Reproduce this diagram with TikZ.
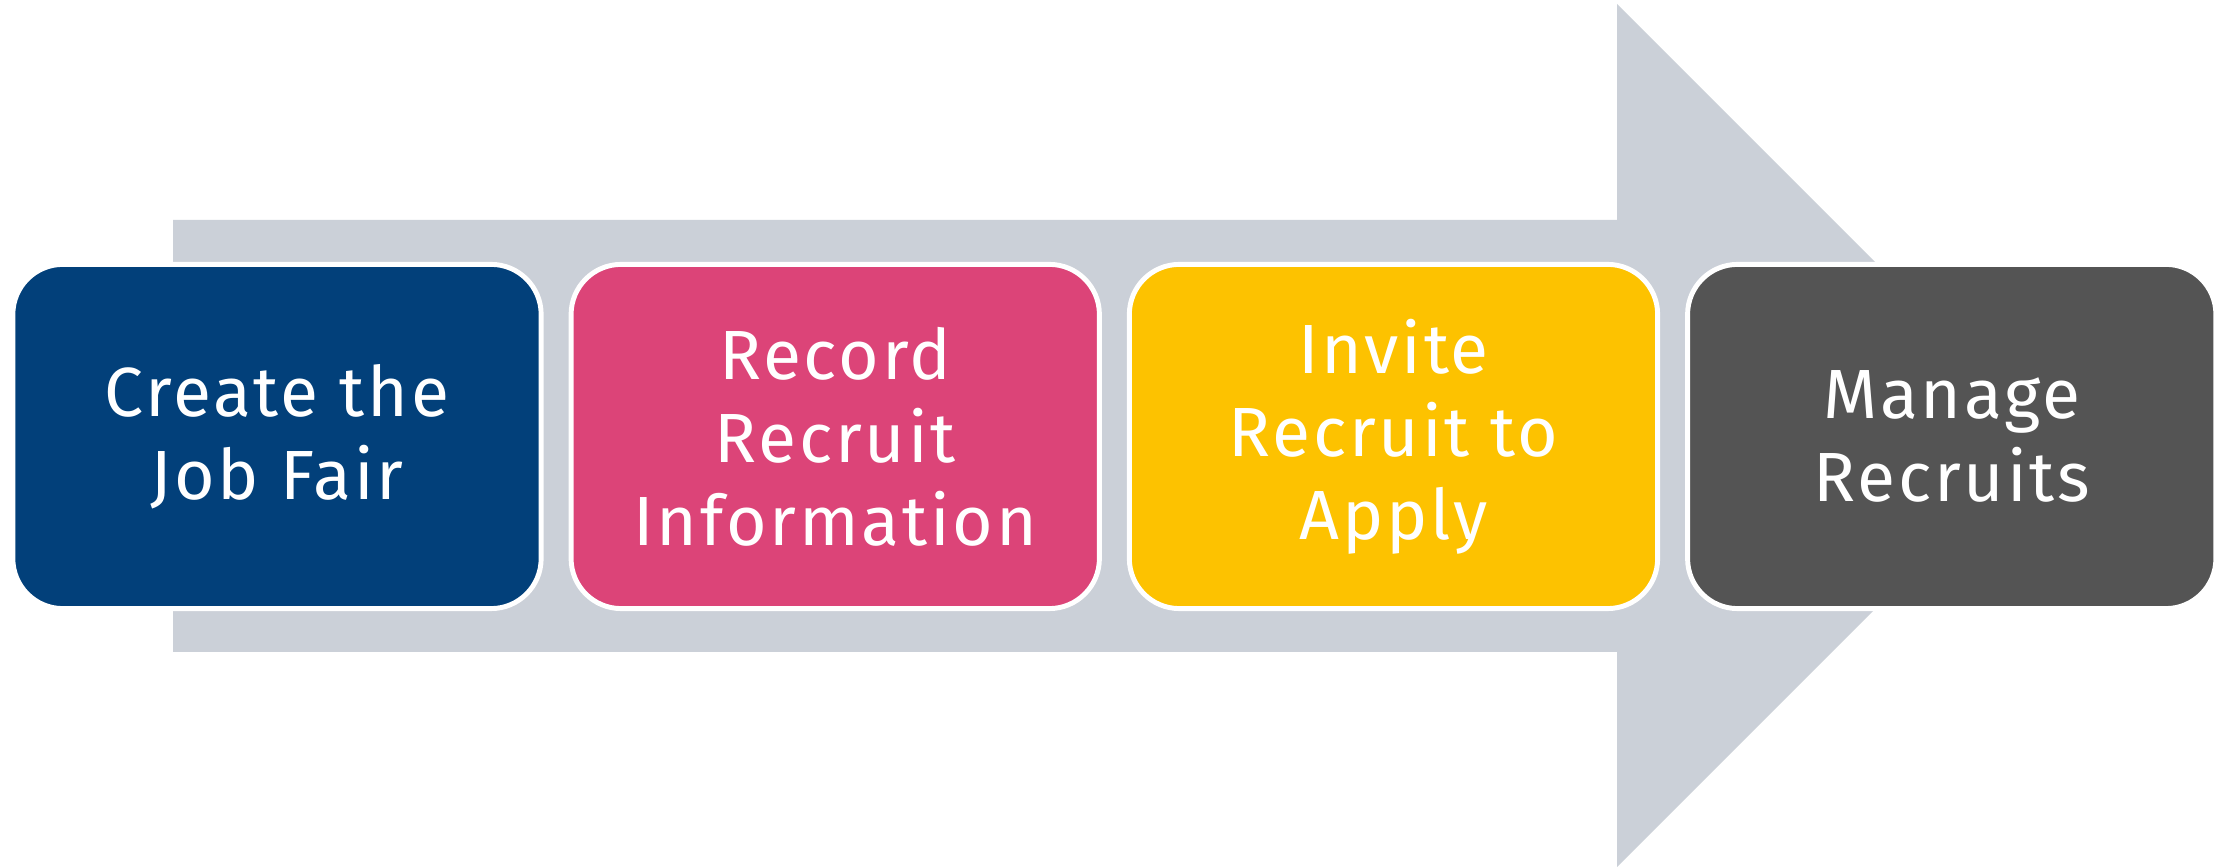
\documentclass[tikz,border=0pt]{standalone}
\usepackage{fontspec}
\usepackage{tikz}
\usetikzlibrary{positioning}
\IfFontExistsTF{Fira Sans Book}
  {\newfontfamily\boxfont{Fira Sans Book}[LetterSpace=4]}
  {\newfontfamily\boxfont{Fira Sans}[LetterSpace=4]}
\definecolor{fairblue}{RGB}{2,64,122}
\definecolor{fairpink}{RGB}{220,68,120}
\definecolor{fairgold}{RGB}{253,194,0}
\definecolor{fairgrey}{RGB}{84,84,84}
\definecolor{shaftgrey}{RGB}{203,208,216}

\begin{document}
\begin{tikzpicture}[x=0.01cm,y=-0.01cm,
  stage/.style={draw=white,line width=1.4pt,rounded corners=0.5cm,
    minimum width=5.28cm,minimum height=3.44cm,inner sep=0pt,
    text=white,align=center,font=\boxfont\fontsize{19.8}{23.6}\selectfont},
  node distance=0.25cm]
\useasboundingbox (0,0) rectangle (2224,868);
\fill[shaftgrey] (173,220) -- (1617,220) -- (1617,4) -- (2048.5,435.5)
  -- (1617,867) -- (1617,652) -- (173,652) -- cycle;
\node[stage,fill=fairblue] (fair) at (277,436.5) {Create the\\Job Fair};
\node[stage,fill=fairpink,right=of fair] (record) {Record\\Recruit\\Information};
\node[stage,fill=fairgold,right=of record] (invite) {Invite\\Recruit to\\Apply};
\node[stage,fill=fairgrey,right=of invite] (manage) {Manage\\Recruits};
\end{tikzpicture}
\end{document}
